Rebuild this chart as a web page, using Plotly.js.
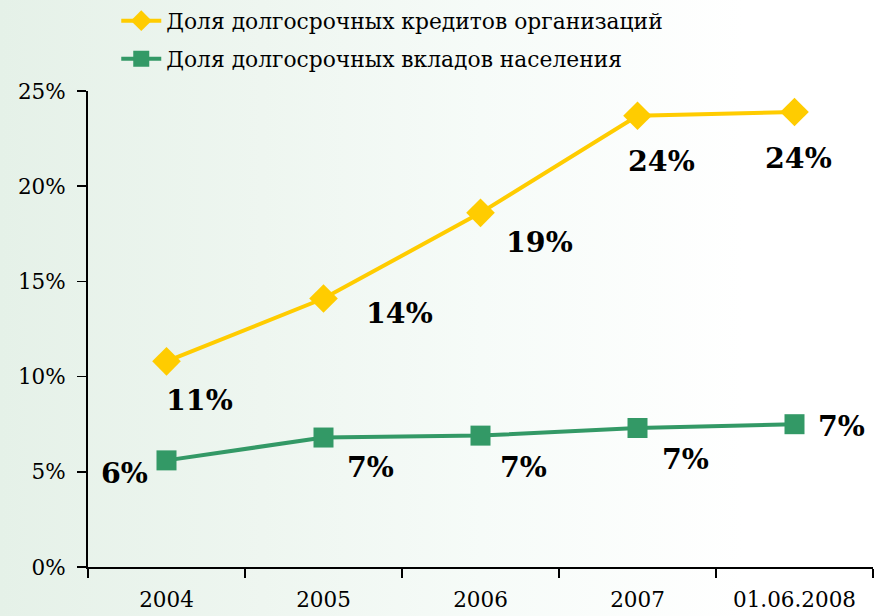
<!DOCTYPE html>
<html><head><meta charset="utf-8">
<script src="https://cdn.plot.ly/plotly-3.0.1.min.js"></script>
<style>
html,body{margin:0;padding:0;}
body{width:874px;height:616px;background:linear-gradient(to right,#e5f1e8 0%,#eef6f0 30%,#f6fbf8 55%,#ffffff 85%,#ffffff 100%);}
#chart{width:874px;height:616px;}
</style></head>
<body><div id="chart"></div>
<script>
const categories = ['2004','2005','2006','2007','01.06.2008'];
const creditsShare = [10.8, 14.1, 18.6, 23.7, 23.9];
const depositsShare = [5.6, 6.8, 6.9, 7.3, 7.5];
const creditsLabels = ['11%','14%','19%','24%','24%'];
const depositsLabels = ['6%','7%','7%','7%','7%'];
const yTickVals = [0,5,10,15,20,25];
const yTickText = ['0%','5%','10%','15%','20%','25%'];

const creditsOffsets = [[33,-39],[76,-14],[59,-29],[24,-45],[4,-46]];
const depositsOffsets = [[-42,-13],[47,-29],[43,-31],[48,-31],[47,-2]];

const font = 'DejaVu Serif';

const traces = [
  {x: categories, y: creditsShare, type:'scatter', mode:'lines+markers',
   name:'Доля долгосрочных кредитов организаций',
   line:{color:'#FFCC00', width:4},
   marker:{symbol:'diamond', size:22, color:'#FFCC00'},
   legend:'legend'},
  {x: categories, y: depositsShare, type:'scatter', mode:'lines+markers',
   name:'Доля долгосрочных вкладов населения',
   line:{color:'#339966', width:4},
   marker:{symbol:'square', size:20, color:'#339966'},
   legend:'legend2'}
];

const annotations = [];
categories.forEach((c,i)=>{
  annotations.push({x:i, y:creditsShare[i], xref:'x', yref:'y', text:creditsLabels[i],
    showarrow:false, xshift:creditsOffsets[i][0], yshift:creditsOffsets[i][1],
    font:{family:font, size:28.5, color:'#000', weight:'bold'}});
  annotations.push({x:i, y:depositsShare[i], xref:'x', yref:'y', text:depositsLabels[i],
    showarrow:false, xshift:depositsOffsets[i][0], yshift:depositsOffsets[i][1],
    font:{family:font, size:28.5, color:'#000', weight:'bold'}});
});

const legendStyle = (yPos)=>({x:0.036, y:yPos, xanchor:'left', yanchor:'middle',
  bgcolor:'rgba(0,0,0,0)', font:{family:font, size:21.8, color:'#000'}, itemwidth:40});

const layout = {
  width:874, height:616,
  margin:{l:88, r:1, t:91, b:49, autoexpand:false},
  paper_bgcolor:'rgba(0,0,0,0)', plot_bgcolor:'rgba(0,0,0,0)',
  font:{family:font, size:21.5, color:'#000'},
  showlegend:true,
  legend: legendStyle(1 + 70/476),
  legend2: legendStyle(1 + 32/476),
  xaxis:{type:'category', range:[-0.5,4.5], showline:true, linecolor:'#000', linewidth:2,
    ticks:'outside', tickson:'boundaries', ticklen:9, tickwidth:1.5, tickcolor:'#000',
    showgrid:false, zeroline:false, ticklabelstandoff:12,
    tickfont:{family:font, size:21.5, color:'#000'}},
  yaxis:{range:[0,25], tickvals:yTickVals, ticktext:yTickText, showline:true,
    linecolor:'#000', linewidth:2, ticks:'outside', ticklen:9, tickwidth:1.5, tickcolor:'#000',
    showgrid:false, zeroline:false, ticklabelstandoff:7,
    tickfont:{family:font, size:21.5, color:'#000'}},
  annotations: annotations
};

Plotly.newPlot('chart', traces, layout, {displayModeBar:false, staticPlot:true});
</script>
</body></html>
